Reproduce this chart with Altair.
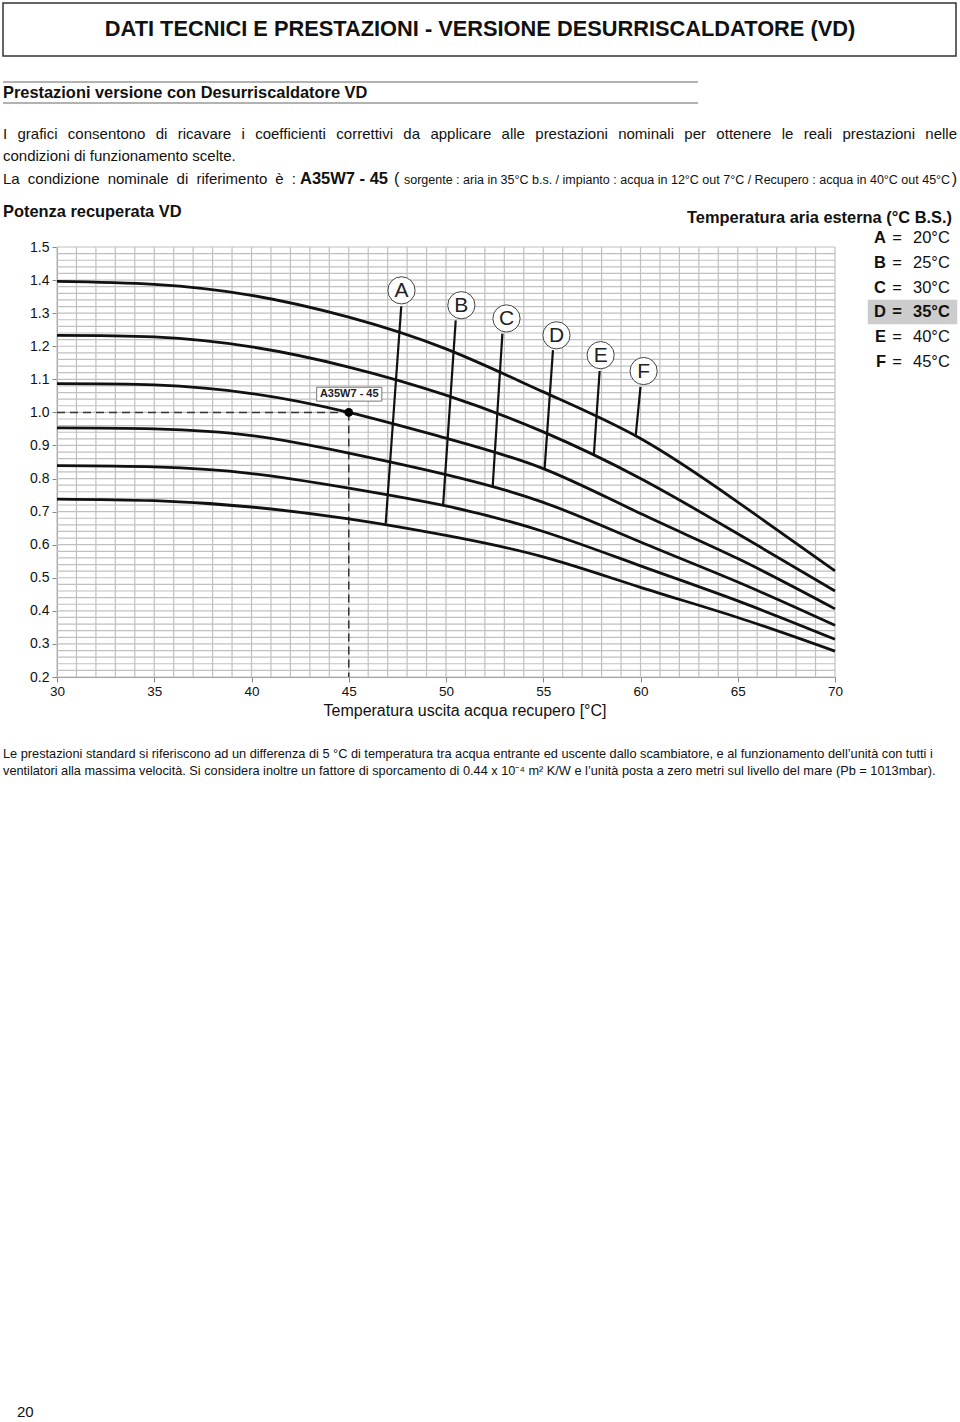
import altair as alt
import pandas as pd

# ---------------- data ----------------
X_TEMPS = [30, 35, 40, 45, 50, 55, 60, 65, 70]
CURVE_1 = [1.396, 1.387, 1.354, 1.288, 1.192, 1.062, 0.921, 0.729, 0.521]
CURVE_2 = [1.233, 1.228, 1.198, 1.137, 1.052, 0.941, 0.800, 0.633, 0.460]
CURVE_3 = [1.087, 1.083, 1.057, 1.000, 0.922, 0.830, 0.694, 0.558, 0.406]
CURVE_4 = [0.953, 0.950, 0.930, 0.877, 0.812, 0.728, 0.608, 0.487, 0.356]
CURVE_5 = [0.839, 0.835, 0.815, 0.771, 0.717, 0.640, 0.536, 0.430, 0.314]
CURVE_6 = [0.738, 0.733, 0.714, 0.678, 0.628, 0.563, 0.471, 0.380, 0.278]
CURVES = [CURVE_1, CURVE_2, CURVE_3, CURVE_4, CURVE_5, CURVE_6]

AIR_LABELS = ["A", "B", "C", "D", "E", "F"]
AIR_TEMPS = ["20°C", "25°C", "30°C", "35°C", "40°C", "45°C"]
LINE_TOP_X = [47.7, 50.5, 52.9, 55.5, 57.9, 60.0]
LINE_TOP_Y = [1.321, 1.278, 1.238, 1.188, 1.125, 1.077]
LINE_BOT_X = [46.9, 49.85, 52.4, 55.07, 57.6, 59.75]
LINE_BOT_Y = [0.664, 0.719, 0.776, 0.830, 0.870, 0.927]
CIRCLE_X = [47.71, 50.79, 53.11, 55.68, 57.95, 60.16]
CIRCLE_Y = [1.369, 1.324, 1.284, 1.233, 1.173, 1.125]

REF_X = 45
REF_Y = 1.0
REF_LABEL = "A35W7 - 45"
REF_BOX_X = [43.35, 46.7]
REF_BOX_Y = [1.034, 1.076]

X_TICKS = [30, 35, 40, 45, 50, 55, 60, 65, 70]
Y_TICKS = [0.2, 0.3, 0.4, 0.5, 0.6, 0.7, 0.8, 0.9, 1.0, 1.1, 1.2, 1.3, 1.4, 1.5]
X_GRID = list(range(30, 71))
Y_GRID = [round(0.2 + 0.02 * i, 2) for i in range(66)]

# ---------------- layout ----------------
W, H = 778, 430
OX, OY = 57, 247
SANS = "Liberation Sans, Arial, sans-serif"

xs = alt.Scale(domain=[30, 70], nice=False, zero=False)
ys = alt.Scale(domain=[0.2, 1.5], nice=False, zero=False)

XAX = alt.Axis(values=X_TICKS, grid=False, title=None, format="d",
               labelFontSize=13.5, labelFont=SANS, labelColor="#111", tickSize=5,
               tickColor="#888", domainColor="#888", labelPadding=2, labelFlush=False,
               labelOverlap=False)
YAX = alt.Axis(values=Y_TICKS, grid=False, title=None, format=".1f",
               labelFontSize=14, labelFont=SANS, labelColor="#111", tickSize=5,
               tickColor="#888", domainColor="#888", labelPadding=3, labelFlush=False,
               labelOverlap=False)


def X(f):
    return alt.X(f, scale=xs, axis=XAX)


def Y(f):
    return alt.Y(f, scale=ys, axis=YAX)


layers = []

# grid + axes
gx = pd.DataFrame({"x": X_GRID})
gy = pd.DataFrame({"y": Y_GRID})
layers.append(alt.Chart(gx).mark_rule(color="#c0c0c0", strokeWidth=1.2).encode(
    x=X("x:Q"), y=alt.value(0), y2=alt.value(H)))
layers.append(alt.Chart(gy).mark_rule(color="#c0c0c0", strokeWidth=1.2).encode(
    y=Y("y:Q"), x=alt.value(0), x2=alt.value(W)))

# reference dashed lines
layers.append(alt.Chart(pd.DataFrame({"x": [X_TEMPS[0]], "x2": [REF_X], "y": [REF_Y]})).mark_rule(
    color="#333", strokeWidth=1.5, strokeDash=[8, 5]).encode(
    x=X("x:Q"), x2="x2:Q", y=Y("y:Q")))
layers.append(alt.Chart(pd.DataFrame({"x": [REF_X], "y": [REF_Y], "y2": [Y_TICKS[0]]})).mark_rule(
    color="#333", strokeWidth=1.5, strokeDash=[8, 5]).encode(
    x=X("x:Q"), y=Y("y:Q"), y2="y2:Q"))

# curves
rows = []
for i, c in enumerate(CURVES):
    for x, v in zip(X_TEMPS, c):
        rows.append({"curve": i, "x": x, "v": v})
cdf = pd.DataFrame(rows)
layers.append(alt.Chart(cdf).mark_line(color="#111", strokeWidth=2.8, interpolate="natural").encode(
    x=X("x:Q"), y=Y("v:Q"), detail="curve:N"))

# A-F lines
ldf = pd.DataFrame({"lab": AIR_LABELS, "x": LINE_TOP_X, "y": LINE_TOP_Y,
                    "x2": LINE_BOT_X, "y2": LINE_BOT_Y,
                    "cx": CIRCLE_X, "cy": CIRCLE_Y})
layers.append(alt.Chart(ldf).mark_rule(color="#111", strokeWidth=2.2).encode(
    x=X("x:Q"), y=Y("y:Q"), x2="x2:Q", y2="y2:Q"))
layers.append(alt.Chart(ldf).mark_point(shape="circle", filled=True, fill="white", stroke="#444",
                                        strokeWidth=1, size=740, opacity=1).encode(
    x=X("cx:Q"), y=Y("cy:Q")))
layers.append(alt.Chart(ldf).mark_text(fontSize=21, font=SANS, color="#222", baseline="middle",
                                       align="center", dy=1).encode(
    x=X("cx:Q"), y=Y("cy:Q"), text="lab:N"))

# reference point & label
layers.append(alt.Chart(pd.DataFrame({"x": [REF_X], "y": [REF_Y]})).mark_point(
    shape="circle", filled=True, color="#000", size=75, opacity=1).encode(
    x=X("x:Q"), y=Y("y:Q")))
layers.append(alt.Chart(pd.DataFrame({"x": [REF_BOX_X[0]], "x2": [REF_BOX_X[1]],
                                      "y": [REF_BOX_Y[0]], "y2": [REF_BOX_Y[1]]})).mark_rect(
    fill="white", stroke="#777", strokeWidth=1).encode(
    x=X("x:Q"), x2="x2:Q", y=Y("y:Q"), y2="y2:Q"))
layers.append(alt.Chart(pd.DataFrame({"x": [sum(REF_BOX_X) / 2], "y": [sum(REF_BOX_Y) / 2],
                                      "t": [REF_LABEL]})).mark_text(
    fontSize=11, font=SANS, fontWeight="bold", color="#222", baseline="middle", align="center").encode(
    x=X("x:Q"), y=Y("y:Q"), text="t:N"))


# page texts
def txt(s, x, y, size, weight="normal", align="left", font=SANS, color="#111"):
    return alt.Chart(pd.DataFrame({"t": [s]})).mark_text(
        align=align, baseline="middle", fontSize=size, fontWeight=weight, font=font, color=color
    ).encode(x=alt.value(x - OX), y=alt.value(y - OY), text="t:N")


def hline(x1, x2, y, color="#999", width=1.5):
    return alt.Chart(pd.DataFrame({"a": [0]})).mark_rule(color=color, strokeWidth=width).encode(
        x=alt.value(x1 - OX), x2=alt.value(x2 - OX), y=alt.value(y - OY))


def box(x1, x2, y1, y2, fill="none", stroke="#333", width=1.5):
    return alt.Chart(pd.DataFrame({"a": [0]})).mark_rect(fill=fill, stroke=stroke, strokeWidth=width).encode(
        x=alt.value(x1 - OX), x2=alt.value(x2 - OX), y=alt.value(y1 - OY), y2=alt.value(y2 - OY))


# Arial / Liberation Sans advance widths (per 1000 em) for justified lines
AW = {" ": 278, "a": 556, "b": 556, "c": 500, "d": 556, "e": 556, "f": 278, "g": 556, "h": 556,
      "i": 222, "j": 222, "k": 500, "l": 222, "m": 833, "n": 556, "o": 556, "p": 556, "q": 556,
      "r": 333, "s": 500, "t": 278, "u": 556, "v": 500, "w": 722, "x": 500, "y": 500, "z": 500,
      "I": 278, "L": 556, "è": 556, ":": 278}


def justify(line, x0, x1, y, size):
    words = line.split(" ")
    widths = [sum(AW.get(ch, 556) for ch in w) * size / 1000 for w in words]
    gap = (x1 - x0 - sum(widths)) / (len(words) - 1)
    out = []
    x = x0
    for w, wd in zip(words, widths):
        out.append(txt(w, x, y, size))
        x += wd + gap
    return out


layers.append(box(3, 956, 3, 56, fill="white", stroke="#333", width=1.5))
layers.append(txt("DATI TECNICI E PRESTAZIONI - VERSIONE DESURRISCALDATORE (VD)", 480, 29, 21.8,
                  weight="bold", align="center"))
layers.append(hline(3, 698, 82))
layers.append(hline(3, 698, 103))
layers.append(txt("Prestazioni versione con Desurriscaldatore VD", 3, 92.5, 16.4, weight="bold"))
layers += justify("I grafici consentono di ricavare i coefficienti correttivi da applicare alle prestazioni nominali per ottenere le reali prestazioni nelle", 3, 957, 134, 15)
layers.append(txt("condizioni di funzionamento scelte.", 3, 156, 15))
layers += justify("La condizione nominale di riferimento è :", 3, 296, 179, 15)
layers.append(txt("A35W7 - 45", 300, 179, 16.5, weight="bold"))
layers.append(txt("(", 394, 179, 16))
layers.append(txt("sorgente : aria in 35°C b.s. / impianto : acqua in 12°C out 7°C /  Recupero : acqua in 40°C out 45°C", 404, 180, 12.5))
layers.append(txt(")", 957, 179, 16, align="right"))

layers.append(txt("Potenza recuperata VD", 3, 212, 16.4, weight="bold"))
layers.append(txt("Temperatura aria esterna (°C B.S.)", 952, 218, 16.4, weight="bold", align="right"))

layers.append(box(868, 957, 300, 324, fill="#cccccc", stroke="#cccccc", width=0.5))
for i, (lab, t) in enumerate(zip(AIR_LABELS, AIR_TEMPS)):
    yy = 238 + i * 24.8
    w = "bold" if lab == "D" else "normal"
    layers.append(txt(lab, 886, yy, 16.5, weight="bold", align="right"))
    layers.append(txt("=", 897, yy, 16.5, weight=w, align="center"))
    layers.append(txt(t, 913, yy, 16.5, weight=w))

layers.append(txt("Temperatura uscita acqua recupero [°C]", 465, 711, 16, align="center"))

layers.append(txt("Le prestazioni standard si riferiscono ad un differenza di 5 °C di temperatura tra acqua entrante ed uscente dallo scambiatore, e al funzionamento dell’unità con tutti i", 3, 754, 12.75))
layers.append(txt("ventilatori alla massima velocità. Si considera inoltre un fattore di sporcamento di 0.44 x 10⁻⁴ m² K/W e l’unità posta a zero metri sul livello del mare (Pb = 1013mbar).", 3, 771, 12.75))
layers.append(txt("20", 17, 1412, 15))

chart = alt.layer(*layers).properties(
    width=W, height=H,
    autosize=alt.AutoSizeParams(type="none"),
    padding={"left": OX, "top": OY, "right": 960 - OX - W, "bottom": 1422 - OY - H},
    background="white",
).configure_view(stroke=None)

chart.save("out.html", embed_options={"renderer": "svg", "actions": False})
